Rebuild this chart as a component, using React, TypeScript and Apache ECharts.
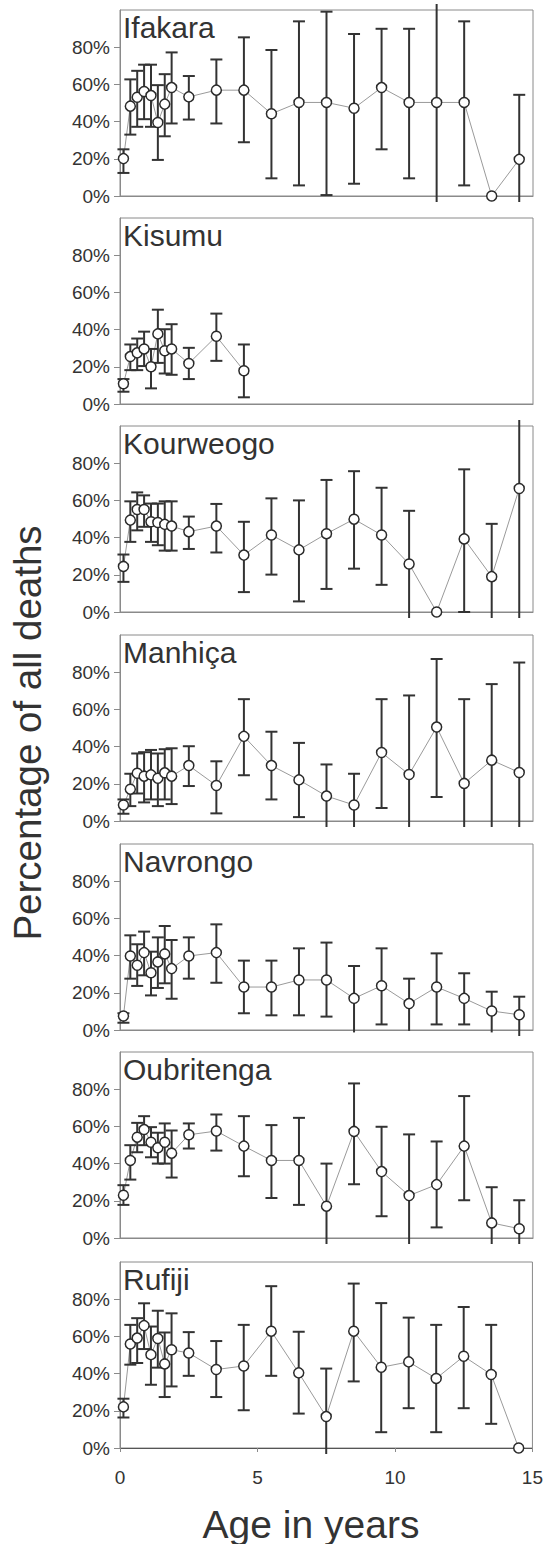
import React, { useEffect, useRef } from "react";
import * as echarts from "echarts";

// Age-group midpoints (years): quarters for the first two years, then yearly groups
const AGES = [0.125, 0.375, 0.625, 0.875, 1.125, 1.375, 1.625, 1.875, 2.5, 3.5, 4.5, 5.5, 6.5, 7.5, 8.5, 9.5, 10.5, 11.5, 12.5, 13.5, 14.5];

const SITES = ["Ifakara", "Kisumu", "Kourweogo", "Manhiça", "Navrongo", "Oubritenga", "Rufiji"];

// Percentages of all deaths; low/high = confidence limits (values beyond 0–100 are cut at the frame)
const ifakaraPct = [20.1, 48.3, 53.1, 56.2, 54.0, 39.5, 49.4, 58.3, 53.3, 56.9, 56.9, 44.2, 50.3, 50.3, 47.2, 58.3, 50.3, 50.3, 50.3, 0, 19.7];
const ifakaraLow = [12.4, 33.0, 37.2, 41.3, 37.2, 19.4, 32.1, 39.0, 41.1, 39.0, 28.9, 9.5, 5.7, 0.5, 6.6, 25.1, 9.5, -5, 5.7, null, -5];
const ifakaraHigh = [25.1, 62.7, 67.3, 70.6, 70.6, 59.6, 65.5, 77.2, 64.5, 73.4, 85.3, 78.5, 93.9, 99.1, 87.1, 89.9, 89.9, 105, 93.9, null, 54.4];

const kisumuPct = [10.9, 25.5, 27.5, 29.6, 20.0, 37.7, 28.6, 29.6, 21.8, 36.4, 17.9];
const kisumuLow = [6.6, 18.2, 18.2, 20.4, 8.4, 22.1, 16.4, 15.7, 13.4, 23.2, 3.6];
const kisumuHigh = [13.4, 32.0, 35.2, 38.9, 29.6, 50.7, 40.2, 42.9, 30.2, 48.6, 32.0];

const kourweogoPct = [24.5, 49.4, 55.1, 55.1, 48.5, 48.1, 47.1, 46.2, 43.2, 46.2, 30.6, 41.4, 33.4, 42.1, 49.9, 41.4, 25.8, 0, 39.3, 19.0, 66.4];
const kourweogoLow = [16.2, 37.7, 43.9, 45.8, 37.7, 35.9, 33.0, 33.0, 33.9, 32.0, 10.7, 20.1, 5.7, 12.4, 23.3, 14.6, -5, null, 0, -5, -5];
const kourweogoHigh = [30.9, 59.5, 64.3, 62.7, 58.3, 58.3, 59.5, 59.5, 51.3, 58.1, 48.5, 61.1, 60.0, 71.0, 75.7, 66.8, 54.4, null, 76.7, 47.4, 105];

const manhicaPct = [8.6, 17.1, 25.7, 24.1, 24.8, 23.0, 25.9, 24.1, 29.8, 19.1, 45.5, 29.8, 22.1, 13.4, 8.6, 36.8, 25.0, 50.5, 20.2, 32.7, 26.1];
const manhicaLow = [3.9, 8.0, 14.8, 10.0, 11.6, 8.0, 11.6, 9.1, 18.8, 4.1, 24.6, 11.6, 2.1, -5, -5, 7.0, -5, 12.9, -5, -5, -5];
const manhicaHigh = [11.6, 25.4, 36.3, 37.0, 38.2, 36.3, 38.6, 39.1, 40.2, 32.1, 65.5, 48.0, 42.0, 30.4, 25.4, 65.5, 67.5, 87.1, 65.5, 73.6, 85.2];

const navrongoPct = [7.5, 39.8, 34.8, 41.6, 30.8, 36.6, 40.9, 33.0, 39.8, 41.6, 23.1, 23.1, 26.9, 26.9, 17.0, 23.8, 14.2, 23.1, 17.0, 10.2, 8.2];
const navrongoLow = [3.9, 27.6, 23.7, 29.4, 18.6, 22.6, 25.1, 16.8, 27.6, 25.4, 9.0, 7.9, 7.9, 7.2, -1.3, 3.0, -0.5, 3.0, 3.0, -1.3, -5];
const navrongoHigh = [9.0, 50.9, 46.1, 52.9, 42.1, 49.8, 55.9, 48.4, 49.8, 56.8, 37.3, 37.3, 43.9, 47.0, 34.4, 43.9, 27.6, 41.2, 30.5, 20.6, 17.9];

const oubritengaPct = [23.0, 41.7, 54.2, 58.3, 51.5, 48.5, 51.5, 45.6, 55.5, 57.5, 49.4, 41.7, 41.7, 17.1, 57.3, 35.7, 22.8, 28.7, 49.4, 8.1, 5.0];
const oubritengaLow = [17.8, 31.4, 46.1, 49.9, 43.4, 40.0, 40.0, 32.5, 48.1, 47.0, 33.2, 21.5, 17.8, -5, 28.9, 11.7, -5, 5.7, 20.3, -5, -5];
const oubritengaHigh = [28.4, 49.9, 61.9, 65.5, 59.6, 56.6, 61.6, 57.8, 61.6, 66.4, 65.5, 60.7, 64.6, 40.0, 83.1, 59.8, 55.7, 51.9, 76.3, 27.3, 20.3];

const rufijiPct = [22.1, 55.9, 59.1, 65.8, 50.2, 58.9, 45.2, 52.8, 51.1, 42.2, 44.1, 62.8, 40.4, 16.9, 62.8, 43.4, 46.3, 37.4, 49.3, 39.5, 0];
const rufijiLow = [16.4, 44.8, 45.7, 53.2, 34.0, 43.2, 27.4, 33.1, 38.8, 27.4, 20.3, 38.8, 18.5, -5, 35.8, 8.5, 21.4, 8.5, 21.4, 13.0, null];
const rufijiHigh = [26.5, 66.2, 69.8, 77.8, 65.3, 73.8, 62.1, 72.4, 62.3, 57.5, 66.2, 87.0, 62.5, 42.7, 88.4, 77.9, 70.1, 66.2, 75.8, 66.2, null];

const PCT = [ifakaraPct, kisumuPct, kourweogoPct, manhicaPct, navrongoPct, oubritengaPct, rufijiPct];
const LOW = [ifakaraLow, kisumuLow, kourweogoLow, manhicaLow, navrongoLow, oubritengaLow, rufijiLow];
const HIGH = [ifakaraHigh, kisumuHigh, kourweogoHigh, manhicaHigh, navrongoHigh, oubritengaHigh, rufijiHigh];

const Y_TICKS = [0, 20, 40, 60, 80];
const X_TICKS = [0, 5, 10, 15];

const FONT = "'Liberation Sans', Arial, sans-serif";
const TEXT = "#333333";
const FRAME = "#8a8a8a";
const BAR = "#333333";

export default function App() {
  const ref = useRef<HTMLDivElement>(null);

  useEffect(() => {
    const chart = echarts.init(ref.current!, null, { renderer: "svg" });
    const tops = [10, 218, 426, 635, 844, 1052, 1262];
    const H = 186;
    const grids: any[] = [];
    const xAxes: any[] = [];
    const yAxes: any[] = [];
    const series: any[] = [];
    const graphics: any[] = [];

    SITES.forEach((site, i) => {
      const last = i === SITES.length - 1;
      grids.push({
        left: 120, width: 413, top: tops[i], height: H,
        show: true, borderColor: FRAME, borderWidth: 1, backgroundColor: "transparent",
      });
      xAxes.push({
        type: "value", gridIndex: i, min: 0, max: 15, interval: 5,
        axisLine: { show: true, onZero: false, lineStyle: { color: last ? "#555" : FRAME, width: 1 } },
        axisTick: { show: last, length: 4, lineStyle: { color: FRAME } },
        axisLabel: {
          show: last, fontSize: 19, color: TEXT, fontFamily: FONT, margin: 20,
          customValues: X_TICKS,
        },
        splitLine: { show: false },
      });
      yAxes.push({
        type: "value", gridIndex: i, min: 0, max: 100, interval: 20,
        axisLine: { show: true, lineStyle: { color: FRAME, width: 1 } },
        axisTick: { show: true, length: 6, lineStyle: { color: FRAME }, customValues: Y_TICKS },
        axisLabel: {
          fontSize: 19, color: TEXT, fontFamily: FONT, margin: 10,
          customValues: Y_TICKS,
          formatter: (v: number) => (v >= 100 ? "" : v + "%"),
        },
        splitLine: { show: false },
      });

      const pts = PCT[i].map((v, k) => [AGES[k], v]);
      const bars: any[] = [];
      PCT[i].forEach((_, k) => {
        const lo = LOW[i][k];
        const hi = HIGH[i][k];
        if (lo !== null && hi !== null) bars.push([AGES[k], lo, hi]);
      });

      series.push({
        type: "line", xAxisIndex: i, yAxisIndex: i, data: pts, z: 1,
        showSymbol: false, symbol: "none", clip: false,
        lineStyle: { color: "#9a9a9a", width: 1 },
        silent: true,
      });
      series.push({
        type: "custom", xAxisIndex: i, yAxisIndex: i, data: bars, z: 2, clip: false,
        encode: { x: 0, y: [1, 2] },
        silent: true,
        renderItem: (_p: any, api: any) => {
          const x = api.value(0);
          const lo = api.value(1);
          const hi = api.value(2);
          const px = api.coord([x, 0])[0];
          const y0 = api.coord([x, 0])[1];
          const y100 = api.coord([x, 100])[1];
          let yLo = api.coord([x, lo])[1];
          let yHi = api.coord([x, hi])[1];
          yLo = Math.min(yLo, y0 + 6);
          yHi = Math.max(yHi, y100 - 6);
          const st = { stroke: BAR, lineWidth: 2 };
          const children: any[] = [
            { type: "line", shape: { x1: px, y1: yLo, x2: px, y2: yHi }, style: st },
          ];
          if (lo >= 0) children.push({ type: "line", shape: { x1: px - 6, y1: yLo, x2: px + 6, y2: yLo }, style: st });
          if (hi <= 100) children.push({ type: "line", shape: { x1: px - 6, y1: yHi, x2: px + 6, y2: yHi }, style: st });
          return { type: "group", children };
        },
      });
      series.push({
        type: "scatter", xAxisIndex: i, yAxisIndex: i, data: pts, z: 3, clip: false,
        symbol: "circle", symbolSize: 10,
        itemStyle: { color: "#ffffff", borderColor: "#2a2a2a", borderWidth: 1.5, opacity: 1 },
        silent: true,
      });

      graphics.push({
        type: "text", x: 123, y: tops[i] + 17,
        style: {
          text: site, fontSize: 30, fill: TEXT, fontFamily: FONT,
          textAlign: "left", textVerticalAlign: "middle",
        },
      });
    });

    graphics.push({
      type: "text", x: 27, y: 733, rotation: Math.PI / 2,
      style: {
        text: "Percentage of all deaths", fontSize: 38.5, fill: TEXT, fontFamily: FONT,
        textAlign: "center", textVerticalAlign: "middle",
      },
    });
    graphics.push({
      type: "text", x: 311, y: 1524,
      style: {
        text: "Age in years", fontSize: 39, fill: TEXT, fontFamily: FONT,
        textAlign: "center", textVerticalAlign: "middle",
      },
    });

    chart.setOption({
      animation: false,
      backgroundColor: "#ffffff",
      grid: grids,
      xAxis: xAxes,
      yAxis: yAxes,
      series,
      graphic: graphics,
    });
    return () => chart.dispose();
  }, []);

  return (
    <div
      ref={ref}
      style={{ position: "absolute", left: 0, top: 0, width: 546, height: 1544, background: "#fff" }}
    />
  );
}
